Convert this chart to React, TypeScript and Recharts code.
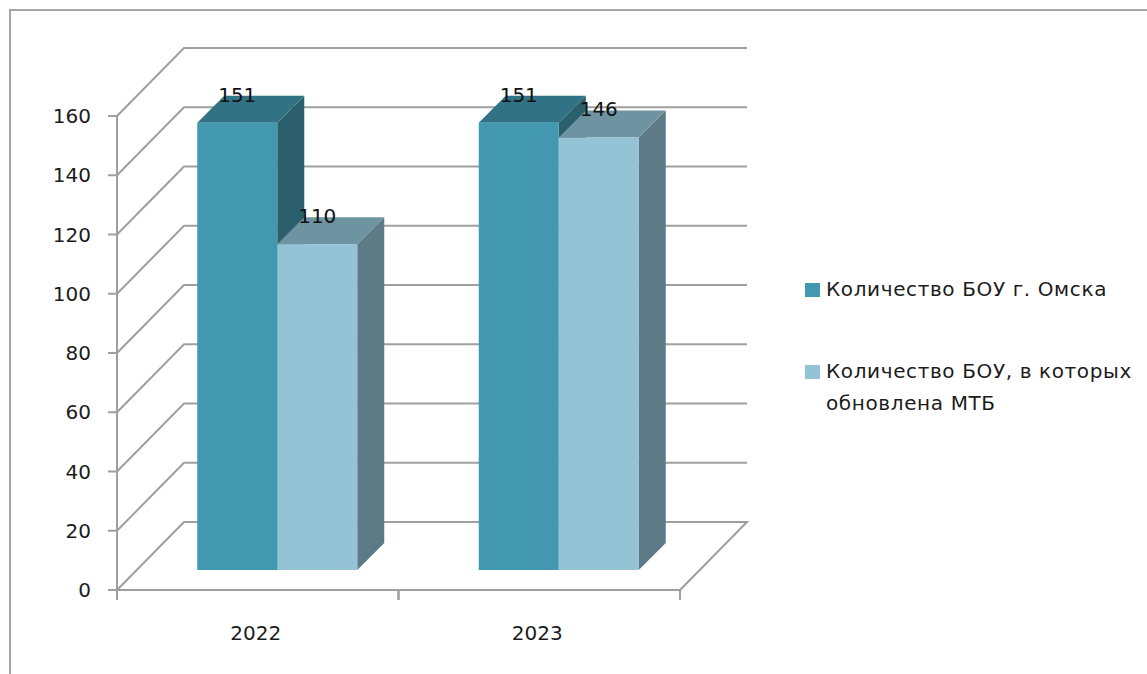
import React from 'react';
import { BarChart, Bar, XAxis, YAxis, CartesianGrid, Legend, LabelList } from 'recharts';

const categories = ['2022', '2023'];
const schools = [151, 151];
const updated = [110, 146];
const yTicks = [0, 20, 40, 60, 80, 100, 120, 140, 160];
const seriesNames = ['Количество БОУ г. Омска', 'Количество БОУ, в которых обновлена МТБ'];
const data = categories.map((year, i) => ({ year, schools: schools[i], updated: updated[i] }));

const FONT = '"DejaVu Sans", sans-serif';
const TEXT = '#1c1c1c';
const LINE = '#9f9f9f';
const WALL = { dx: 67, dy: -68 };
const FLOOR = { dx: 19.25, dy: -20 };
const DEPTH = 27;

const gridLine = (p: any) => {
  const { x1, x2, y1, offset } = p;
  const bottom = offset && Math.abs(y1 - (offset.top + offset.height)) < 1;
  const pts = `${x1},${y1} ${x1 + WALL.dx},${y1 + WALL.dy} ${x2 + WALL.dx},${y1 + WALL.dy}` + (bottom ? ` ${x2},${y1}` : '');
  return <polyline key={p.key ?? y1} points={pts} fill="none" stroke={LINE} strokeWidth={2} />;
};

const box = (top: string, side: string) => (p: any) => {
  const x = p.x + FLOOR.dx;
  const y = p.y + FLOOR.dy;
  const { width: w, height: h, fill } = p;
  return (
    <g>
      <polygon points={`${x + w},${y} ${x + w + DEPTH},${y - DEPTH} ${x + w + DEPTH},${y + h - DEPTH} ${x + w},${y + h}`} fill={side} />
      <polygon points={`${x},${y} ${x + DEPTH},${y - DEPTH} ${x + w + DEPTH},${y - DEPTH} ${x + w},${y}`} fill={top} />
      <rect x={x} y={y} width={w} height={h} fill={fill} />
    </g>
  );
};

const barLabel = (p: any) => (
  <text x={p.x + p.width / 2 + FLOOR.dx} y={p.y + FLOOR.dy - DEPTH + 6} textAnchor="middle" fontFamily={FONT} fontSize={20} fill="#111">
    {p.value}
  </text>
);

const xTick = (p: any) => {
  const half = p.payload?.offset ?? 0;
  const axisY = p.y - 36;
  return (
    <g>
      <line x1={p.x - half} x2={p.x - half} y1={axisY} y2={axisY + 10} stroke={LINE} strokeWidth={2} />
      <line x1={p.x + half} x2={p.x + half} y1={axisY} y2={axisY + 10} stroke={LINE} strokeWidth={2} />
      <text x={p.x - 2} y={p.y} dy="0.71em" textAnchor="middle" fontFamily={FONT} fontSize={20} fill={TEXT}>
        {p.payload?.value}
      </text>
    </g>
  );
};

const legendContent = (p: any) => (
  <div style={{ fontFamily: FONT, fontSize: 20, letterSpacing: 0.62, lineHeight: '32px', color: TEXT, width: 330 }}>
    {p.payload.map((item: any, i: number) => (
      <div key={item.value} style={{ position: 'relative', paddingLeft: 21, marginBottom: i === 0 ? 50 : 0 }}>
        <span style={{ position: 'absolute', left: 0, top: 9.5, width: 15, height: 14, background: item.color }} />
        {item.value}
      </div>
    ))}
  </div>
);

export default function App() {
  return (
    <div style={{ position: 'fixed', left: 0, top: 0, width: 1147, height: 674, overflow: 'hidden', background: '#fff' }}>
      <div style={{ position: 'absolute', left: 9, top: 9, width: 1138, height: 665, borderLeft: '2px solid #a6a6a6', borderTop: '2px solid #a6a6a6' }} />
      <BarChart
        width={1147}
        height={674}
        data={data}
        barSize={80}
        barGap={0}
        margin={{ top: 116, right: 137, bottom: 0, left: 0 }}
        style={{ position: 'absolute', left: 0, top: 0 }}
      >
        <CartesianGrid vertical={false} horizontal={gridLine} />
        <XAxis
          dataKey="year"
          height={84}
          tickLine={false}
          tickSize={10}
          tickMargin={26}
          stroke={LINE}
          strokeWidth={2}
          tick={xTick}
        />
        <YAxis
          width={117}
          domain={[0, 160]}
          ticks={yTicks}
          interval={0}
          tickSize={9}
          tickMargin={17}
          stroke={LINE}
          strokeWidth={2}
          tick={{ fontFamily: FONT, fontSize: 20, fill: TEXT }}
        />
        <Legend layout="vertical" align="right" verticalAlign="top" content={legendContent} wrapperStyle={{ left: 805, top: 273, width: 330 }} />
        <Bar dataKey="schools" name={seriesNames[0]} fill="#4198af" shape={box('#317384', '#2b5f6d')} isAnimationActive={false}>
          <LabelList dataKey="schools" content={barLabel} />
        </Bar>
        <Bar dataKey="updated" name={seriesNames[1]} fill="#93c3d5" shape={box('#6e94a1', '#5d7b87')} isAnimationActive={false}>
          <LabelList dataKey="updated" content={barLabel} />
        </Bar>
      </BarChart>
    </div>
  );
}
